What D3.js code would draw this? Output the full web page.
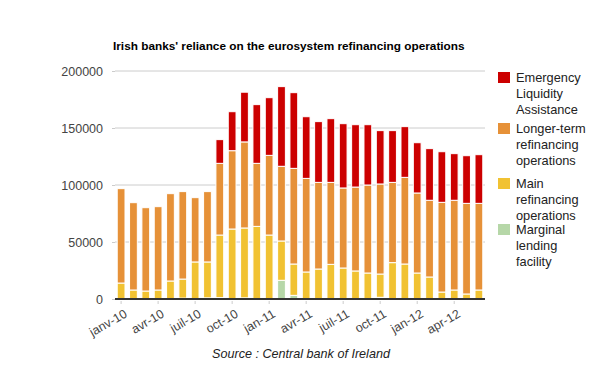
<!DOCTYPE html>
<html>
<head>
<meta charset="utf-8">
<script src="https://d3js.org/d3.v7.min.js"></script>
<style>
  body { margin: 0; background: #fff; }
  text { font-family: "Liberation Sans", Arial, sans-serif; }
</style>
</head>
<body>
<svg id="chart" width="600" height="371"></svg>
<script>
// months jan-10 .. jun-12
const months = ["2010-01","2010-02","2010-03","2010-04","2010-05","2010-06","2010-07","2010-08","2010-09","2010-10","2010-11","2010-12",
  "2011-01","2011-02","2011-03","2011-04","2011-05","2011-06","2011-07","2011-08","2011-09","2011-10","2011-11","2011-12",
  "2012-01","2012-02","2012-03","2012-04","2012-05","2012-06"];

// tick labels shown every 3 months
const tickLabels = {"2010-01":"janv-10","2010-04":"avr-10","2010-07":"juil-10","2010-10":"oct-10","2011-01":"jan-11",
  "2011-04":"avr-11","2011-07":"juil-11","2011-10":"oct-11","2012-01":"jan-12","2012-04":"apr-12"};

// series values (millions EUR)
const marginal = [0,0,0,0,0,800,0,1000,1200,0,1000,0,0,16400,3200,0,0,0,0,0,0,1500,0,0,0,0,0,0,0,0];
const mainOps = [14000,7900,7000,7900,15800,16700,32500,31500,54900,61400,61300,63700,56100,34500,27500,23700,26300,30400,27200,24600,22800,20400,31900,30700,22800,19300,6100,7900,4400,7900];
const longerOps = [82800,76600,73100,73100,76600,76700,56400,61700,62900,68700,75500,55300,69900,65500,83900,82100,76000,71900,70200,73600,77200,79000,70400,76000,70200,67300,78700,78700,79500,76000];
const ela = [0,0,0,0,0,0,0,0,20800,34200,43600,51500,50600,69900,66400,54100,53300,55900,56400,54700,52900,46800,45400,44500,44100,45300,44400,40900,41800,42700];

const seriesKeys = ["mlf","mro","ltro","ela"];
const colors = {mlf:"#b6d7a8", mro:"#f1c232", ltro:"#e69138", ela:"#cc0000"};
const yTicks = [0,50000,100000,150000,200000];

const rows = months.map((m, i) => ({month: m, mlf: marginal[i], mro: mainOps[i], ltro: longerOps[i], ela: ela[i]}));

const svg = d3.select("#chart");
const margin = {left: 115, right: 115, top: 71, bottom: 72};
const W = 600, H = 371;

const x = d3.scaleBand().domain(months).range([margin.left, W - margin.right]).paddingInner(0.37).paddingOuter(0.18);
const y = d3.scaleLinear().domain([0, 200000]).range([H - margin.bottom, margin.top]);

// title
svg.append("text").attr("x", 113).attr("y", 50)
  .attr("font-size", 11.8).attr("font-weight", "bold").attr("fill", "#000")
  .text("Irish banks' reliance on the eurosystem refinancing operations");

// gridlines
svg.append("g").selectAll("line").data(yTicks.slice(1)).enter().append("line")
  .attr("x1", margin.left).attr("x2", W - margin.right)
  .attr("y1", d => y(d)).attr("y2", d => y(d))
  .attr("stroke", "#ccc").attr("stroke-width", 1);

// y axis
const yAxis = svg.append("g").attr("transform", `translate(${margin.left},0)`)
  .call(d3.axisLeft(y).tickValues(yTicks).tickFormat(d3.format("d")).tickSize(3).tickPadding(9));
yAxis.select(".domain").remove();
yAxis.selectAll(".tick line").attr("stroke", "#ccc");
yAxis.selectAll("text").attr("font-size", 12.5).attr("fill", "#444").attr("font-family", "Liberation Sans, Arial, sans-serif");

// stacked bars
const stack = d3.stack().keys(seriesKeys)(rows);
svg.append("g").selectAll("g").data(stack).enter().append("g")
  .attr("fill", d => colors[d.key])
  .selectAll("rect").data(d => d).enter().append("rect")
  .attr("x", d => x(d.data.month))
  .attr("width", x.bandwidth())
  .attr("y", d => y(d[1]))
  .attr("height", d => Math.max(0, y(d[0]) - y(d[1])))
  .attr("stroke", d => (d[1] - d[0]) > 0 ? "#fff" : "none")
  .attr("stroke-width", 1);

// x axis
const xAxis = svg.append("g").attr("transform", `translate(0,${y(0)})`)
  .call(d3.axisBottom(x).tickValues(Object.keys(tickLabels)).tickFormat(d => tickLabels[d]).tickSize(3).tickSizeOuter(0));
xAxis.select(".domain").attr("stroke", "#333").attr("stroke-width", 2).attr("d", `M${margin.left},0H${W - margin.right}`);
xAxis.selectAll(".tick line").attr("stroke", "#ccc").attr("transform", "translate(0,2)");
xAxis.selectAll("text")
  .attr("font-size", 12.5).attr("fill", "#444").attr("font-family", "Liberation Sans, Arial, sans-serif")
  .attr("text-anchor", "end").attr("dy", 0)
  .attr("transform", "translate(4,12) rotate(-30)");

// legend
const legendItems = [
  {key: "ela", lines: ["Emergency", "Liquidity", "Assistance"], top: 72},
  {key: "ltro", lines: ["Longer-term", "refinancing", "operations"], top: 123},
  {key: "mro", lines: ["Main", "refinancing", "operations"], top: 178},
  {key: "mlf", lines: ["Marginal", "lending", "facility"], top: 224}
];
const lg = svg.append("g").selectAll("g").data(legendItems).enter().append("g");
lg.append("rect").attr("x", 498).attr("y", d => d.top).attr("width", 12).attr("height", 11)
  .attr("fill", d => colors[d.key]);
lg.append("text").attr("font-size", 12.8).attr("fill", "#222")
  .selectAll("tspan").data(d => d.lines.map((l, i) => ({l, i, top: d.top}))).enter().append("tspan")
  .attr("x", 516).attr("y", d => d.top + 10 + d.i * 16).text(d => d.l);

// source
svg.append("text").attr("x", 301).attr("y", 358).attr("text-anchor", "middle")
  .attr("font-size", 12.6).attr("font-style", "italic").attr("fill", "#222")
  .text("Source : Central bank of Ireland");
</script>
</body>
</html>
